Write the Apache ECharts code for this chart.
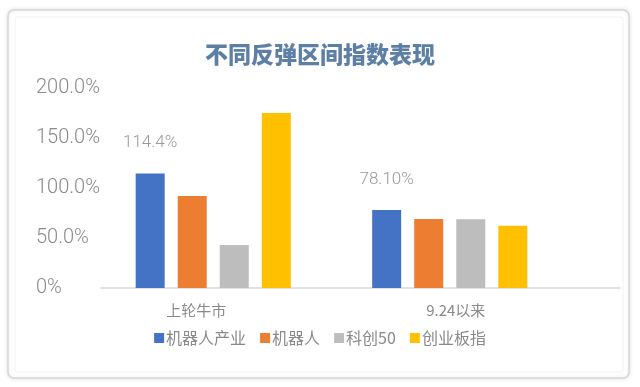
<!DOCTYPE html>
<html><head><meta charset="utf-8">
<script src="https://cdn.jsdelivr.net/npm/echarts@6/dist/echarts.min.js"></script>
<style>html,body{margin:0;padding:0;background:#fff}#c{width:640px;height:387px}</style>
</head><body><div id="c"></div>
<script>
const categories = ['上轮牛市', '9.24以来'];
const seriesNames = ['机器人产业', '机器人', '科创50', '创业板指'];
const robotIndustry = [114.4, 78.1];
const robot = [92, 69];
const star50 = [43, 68.7];
const chinext = [175, 62.3];
const labelTexts = ['114.4%', '78.10%'];
const yTicks = [0, 50, 100, 150, 200];
const colors = ['#4472C4', '#ED7D31', '#BDBDBD', '#FFC000'];

const font = '"Noto Sans CJK SC", Roboto, sans-serif';
const chart = echarts.init(document.getElementById('c'), null, {renderer: 'canvas'});
const values = [robotIndustry, robot, star50, chinext];

const series = seriesNames.map((n, i) => ({
  name: n, type: 'bar', xAxisIndex: 0, yAxisIndex: 0,
  data: values[i], barWidth: 29, barGap: '45%',
  itemStyle: {color: colors[i]},
  label: i === 0 ? {
    show: true, position: 'top', distance: 22,
    formatter: p => labelTexts[p.dataIndex],
    color: '#9a9a9a', fontSize: 17, fontFamily: 'Roboto', fontWeight: 300
  } : {show: false}
}));

chart.setOption({
  animation: false,
  backgroundColor: '#fff',
  graphic: [
    {type: 'rect', shape: {x: 8, y: 10, width: 621, height: 368, r: 6},
     style: {fill: '#fff', stroke: '#d6d6d6', lineWidth: 1.5,
       shadowBlur: 4, shadowColor: 'rgba(0,0,0,0.12)'}, z: -10},
    {type: 'rect', shape: {x: 15, y: 17, width: 608, height: 355, r: 2},
     style: {fill: 'none', stroke: '#f0f0f0', lineWidth: 1}, z: -9}
  ],
  title: {
    text: '不同反弹区间指数表现', left: 'center', top: 38,
    textStyle: {color: '#5d7fa6', fontSize: 23, fontWeight: 900, fontFamily: font}
  },
  legend: {
    data: seriesNames, bottom: 36, left: 'center',
    icon: 'rect', itemWidth: 10, itemHeight: 10, itemGap: 14,
    textStyle: {color: '#8a8a8a', fontSize: 16, fontFamily: font, padding: [0, 0, 0, -3]}
  },
  grid: [
    {left: 95, right: 72, top: 88, bottom: 99},
    {left: 101, right: 20, top: 88, bottom: 99}
  ],
  xAxis: [
    {type: 'category', gridIndex: 0, data: categories,
     axisLine: {show: false}, axisTick: {show: false}, axisLabel: {show: false}},
    {type: 'category', gridIndex: 1, data: categories,
     axisLine: {show: true, lineStyle: {color: '#d9d9d9', width: 1.5}},
     axisTick: {show: false},
     axisLabel: {color: '#8a8a8a', fontSize: 15, fontFamily: font, margin: 15,
       padding: [0, 69, 0, 0]}}
  ],
  yAxis: [
    {type: 'value', gridIndex: 0, min: 0, max: 200, interval: 50,
     axisLine: {show: false}, axisTick: {show: false}, splitLine: {show: false},
     axisLabel: {align: 'left', margin: 59, color: '#8a8a8a', fontSize: 20,
       fontFamily: 'Roboto', fontWeight: 300,
       formatter: v => yTicks.includes(v) ? (v === 0 ? '0%' : v.toFixed(1) + '%') : ''}},
    {type: 'value', gridIndex: 1, min: 0, max: 200, show: false}
  ],
  series: series
});
</script></body></html>
